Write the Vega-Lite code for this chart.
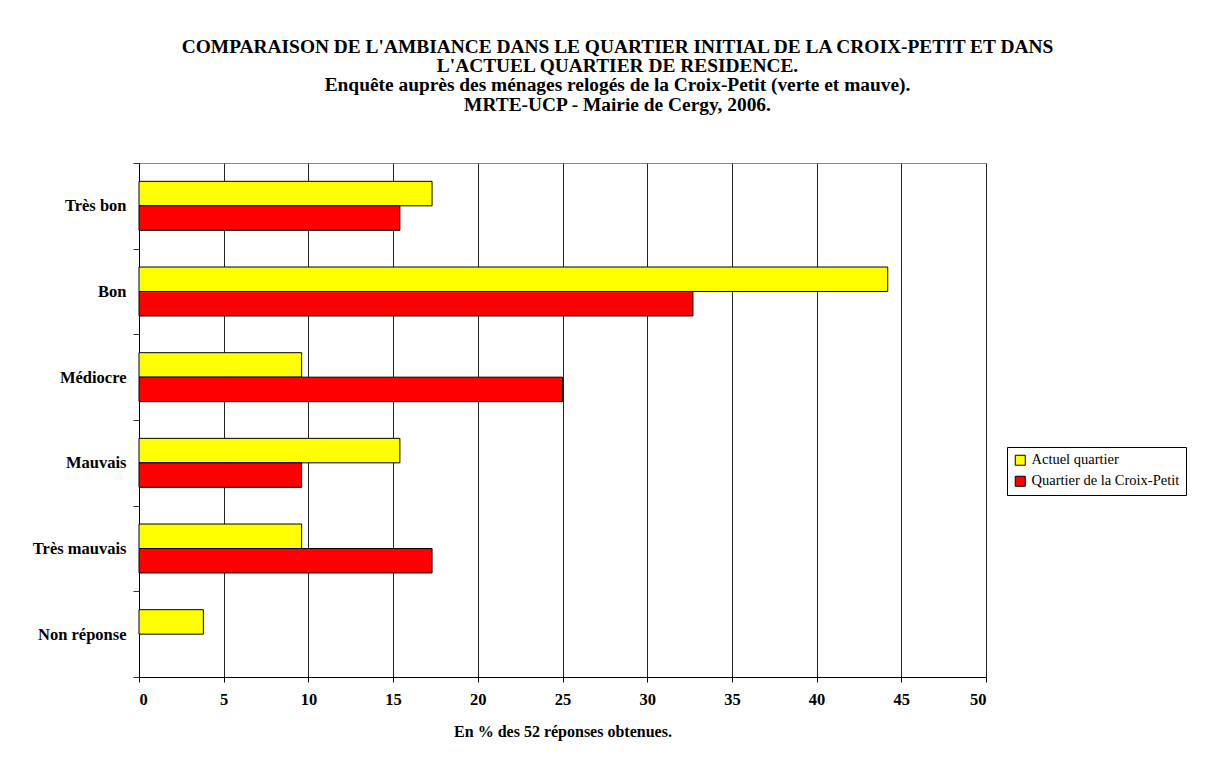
{
  "$schema": "https://vega.github.io/schema/vega-lite/v6.json",
  "autosize": "none",
  "padding": {"left": 139, "top": 163, "right": 222, "bottom": 81},
  "width": 847,
  "height": 514,
  "background": "white",
  "config": {
    "font": "Liberation Serif",
    "view": {"stroke": "#888888", "strokeWidth": 1}
  },
  "title": {
    "text": [
      "COMPARAISON DE L'AMBIANCE DANS LE QUARTIER INITIAL DE LA CROIX-PETIT ET DANS",
      "L'ACTUEL QUARTIER DE RESIDENCE. ",
      "Enquête auprès des ménages relogés de la Croix-Petit (verte et mauve). ",
      "MRTE-UCP - Mairie de Cergy, 2006."
    ],
    "font": "Liberation Serif",
    "fontSize": 19.4,
    "fontWeight": "bold",
    "color": "black",
    "lineHeight": 19.3,
    "anchor": "middle",
    "frame": "group",
    "dx": 55,
    "offset": 40
  },
  "data": {
    "values": [
      {"ambiance": "Très bon", "quartier": "Actuel quartier", "pct": 17.3},
      {"ambiance": "Très bon", "quartier": "Quartier de la Croix-Petit", "pct": 15.4},
      {"ambiance": "Bon", "quartier": "Actuel quartier", "pct": 44.2},
      {"ambiance": "Bon", "quartier": "Quartier de la Croix-Petit", "pct": 32.7},
      {"ambiance": "Médiocre", "quartier": "Actuel quartier", "pct": 9.6},
      {"ambiance": "Médiocre", "quartier": "Quartier de la Croix-Petit", "pct": 25.0},
      {"ambiance": "Mauvais", "quartier": "Actuel quartier", "pct": 15.4},
      {"ambiance": "Mauvais", "quartier": "Quartier de la Croix-Petit", "pct": 9.6},
      {"ambiance": "Très mauvais", "quartier": "Actuel quartier", "pct": 9.6},
      {"ambiance": "Très mauvais", "quartier": "Quartier de la Croix-Petit", "pct": 17.3},
      {"ambiance": "Non réponse", "quartier": "Actuel quartier", "pct": 3.8}
    ]
  },
  "mark": {"type": "bar", "stroke": "black", "strokeWidth": 1},
  "encoding": {
    "y": {
      "field": "ambiance",
      "type": "nominal",
      "sort": ["Très bon", "Bon", "Médiocre", "Mauvais", "Très mauvais", "Non réponse"],
      "scale": {"paddingInner": 0, "paddingOuter": 0},
      "axis": {
        "title": null,
        "tickBand": "extent",
        "ticks": true,
        "tickSize": 6,
        "tickColor": "#333333",
        "labelPadding": 7,
        "labelFont": "Liberation Serif",
        "labelFontSize": 16.5,
        "labelFontWeight": "bold",
        "labelColor": "black",
        "domainColor": "black",
        "grid": false
      }
    },
    "yOffset": {
      "field": "quartier",
      "type": "nominal",
      "scale": {"domain": ["Actuel quartier", "Quartier de la Croix-Petit"], "paddingInner": 0, "paddingOuter": 0.75}
    },
    "x": {
      "field": "pct",
      "type": "quantitative",
      "scale": {"domain": [0, 50], "nice": false},
      "axis": {
        "values": [0, 5, 10, 15, 20, 25, 30, 35, 40, 45, 50],
        "title": "En % des 52 réponses obtenues.",
        "titleFont": "Liberation Serif",
        "titleFontSize": 16,
        "titleFontWeight": "bold",
        "titleColor": "black",
        "titlePadding": 16,
        "labelFont": "Liberation Serif",
        "labelFontSize": 16.5,
        "labelFontWeight": "bold",
        "labelColor": "black",
        "labelPadding": 9,
        "tickSize": 5,
        "tickColor": "black",
        "domainColor": "black",
        "grid": true,
        "gridColor": "#222222",
        "gridWidth": 1,
        "gridOpacity": 1
      }
    },
    "color": {
      "field": "quartier",
      "type": "nominal",
      "scale": {"domain": ["Actuel quartier", "Quartier de la Croix-Petit"], "range": ["#FFFF00", "#FF0000"]},
      "legend": {
        "title": null,
        "orient": "none",
        "legendX": 868,
        "legendY": 284,
        "symbolType": "square",
        "symbolSize": 100,
        "symbolStrokeColor": "black",
        "symbolStrokeWidth": 1,
        "symbolOpacity": 1,
        "labelFont": "Liberation Serif",
        "labelFontSize": 14.5,
        "labelColor": "black",
        "labelOffset": 4,
        "rowPadding": 5,
        "padding": 6,
        "strokeColor": "black",
        "fillColor": "white"
      }
    }
  }
}
